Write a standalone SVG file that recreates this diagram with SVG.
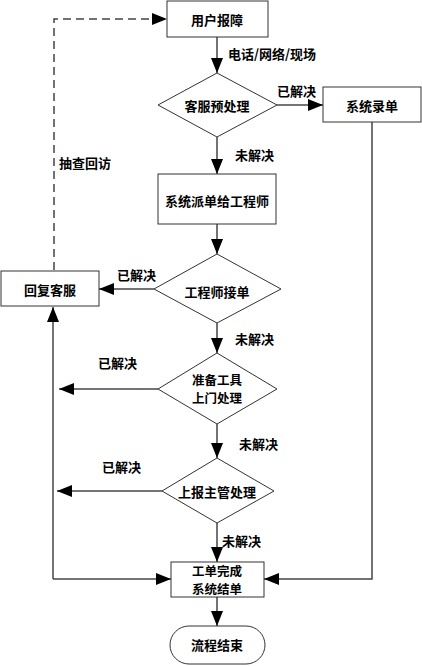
<svg xmlns="http://www.w3.org/2000/svg" width="422" height="666" viewBox="0 0 422 666">
<defs>
<marker id="ah" markerUnits="userSpaceOnUse" markerWidth="15" markerHeight="12" refX="15" refY="6" orient="auto">
<path d="M0,0 L15,6 L0,12 z" fill="#000"/>
</marker>
<style>
.n{fill:#fff;stroke:#333;stroke-width:1}
.t{font-family:"Noto Sans CJK SC","Liberation Sans",sans-serif;font-size:13px;font-weight:bold;fill:#000;text-anchor:middle;dominant-baseline:central}
.t2{font-family:"Noto Sans CJK SC","Liberation Sans",sans-serif;font-size:12.5px;font-weight:bold;fill:#000;text-anchor:middle;dominant-baseline:central}
.l{fill:none;stroke:#444;stroke-width:1.5;marker-end:url(#ah)}
.lb{font-family:"Noto Sans CJK SC","Liberation Sans",sans-serif;font-size:13px;font-weight:bold;fill:#000;dominant-baseline:central}
</style>
</defs>
<rect width="422" height="666" fill="#fff"/>
<g id="connectors">
<path class="l" d="M54,270 V19 H167" stroke-dasharray="8,5"/>
<path class="l" d="M217,37 V73"/>
<path class="l" d="M277,105 H323"/>
<path class="l" d="M217,137 V174"/>
<path class="l" d="M217,224 V254"/>
<path class="l" d="M154,289 H99"/>
<path class="l" d="M217,323 V353"/>
<path class="l" d="M158,389 H59"/>
<path class="l" d="M217,424 V458"/>
<path class="l" d="M162,491 H57"/>
<path class="l" d="M217,523 V562"/>
<path class="l" d="M53,579 V307"/>
<path class="l" d="M53,579 H171"/>
<path class="l" d="M372,122 V579 H264"/>
<path class="l" d="M217,597 V626"/>
<text class="lb" x="228" y="53">电话/网络/现场</text>
<text class="lb" x="277" y="90">已解决</text>
<text class="lb" x="235" y="154">未解决</text>
<text class="lb" x="59" y="162">抽查回访</text>
<text class="lb" x="117" y="274">已解决</text>
<text class="lb" x="235" y="338">未解决</text>
<text class="lb" x="98" y="362">已解决</text>
<text class="lb" x="239" y="443">未解决</text>
<text class="lb" x="102" y="466">已解决</text>
<text class="lb" x="222" y="540">未解决</text>
</g>
<g id="n1"><rect class="n" x="167" y="1" width="101" height="36"/><text class="t" x="217" y="19">用户报障</text></g>
<g id="n2"><polygon class="n" points="217,73 277,105 217,137 158,105"/><text class="t" x="217" y="105">客服预处理</text></g>
<g id="n3"><rect class="n" x="323" y="87" width="98" height="35"/><text class="t" x="372" y="105">系统录单</text></g>
<g id="n4"><rect class="n" x="158" y="174" width="118" height="50"/><text class="t" x="217" y="200">系统派单给工程师</text></g>
<g id="n5"><polygon class="n" points="217,254 281,289 217,323 154,289"/><text class="t" x="217" y="291">工程师接单</text></g>
<g id="n6"><rect class="n" x="1" y="271" width="98" height="35"/><text class="t" x="50" y="289">回复客服</text></g>
<g id="n7"><polygon class="n" points="217,353 277,389 217,424 158,389"/><text class="t2" x="217" y="379.5">准备工具</text><text class="t2" x="217" y="397.5">上门处理</text></g>
<g id="n8"><polygon class="n" points="217,458 274,491 217,523 162,491"/><text class="t" x="217" y="491">上报主管处理</text></g>
<g id="n9"><rect class="n" x="171" y="562" width="93" height="35"/><text class="t2" x="217" y="570.5">工单完成</text><text class="t2" x="217" y="588.5">系统结单</text></g>
<g id="n10"><rect class="n" x="170" y="626" width="95" height="38" rx="19" ry="19"/><text class="t" x="217" y="644">流程结束</text></g>
</svg>
